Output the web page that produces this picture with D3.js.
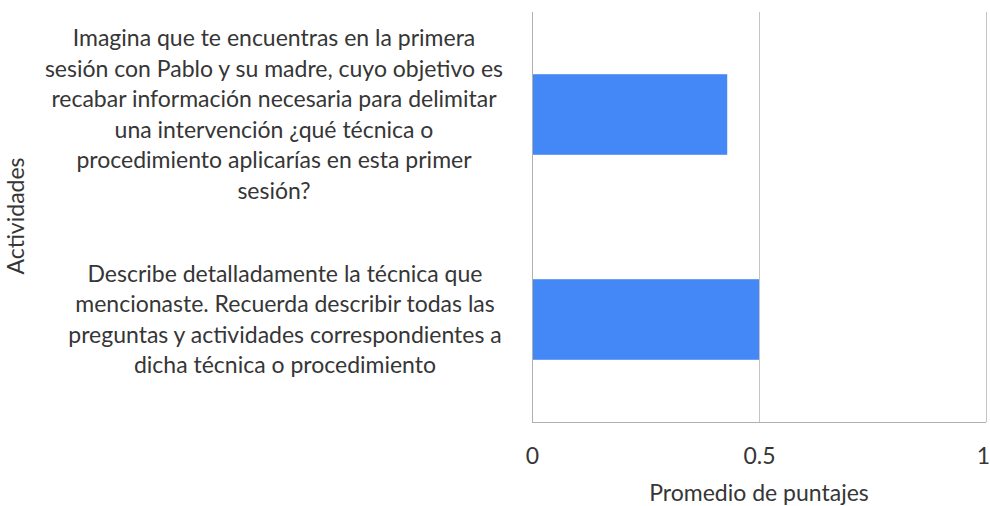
<!DOCTYPE html>
<html>
<head>
<meta charset="utf-8">
<script src="https://cdn.jsdelivr.net/npm/d3@7"></script>
<style>
  html, body { margin: 0; padding: 0; background: #fff; }
  svg { display: block; }
  text { font-family: Lato, "Open Sans", sans-serif; fill: #363636; }
</style>
</head>
<body>
<svg id="chart" width="990" height="506"></svg>
<script>
// Activity prompts (wrapped label lines) and their average scores
const categories = [
  ["Imagina que te encuentras en la primera",
   "sesión con Pablo y su madre, cuyo objetivo es",
   "recabar información necesaria para delimitar",
   "una intervención ¿qué técnica o",
   "procedimiento aplicarías en esta primer",
   "sesión?"],
  ["Describe detalladamente la técnica que",
   "mencionaste. Recuerda describir todas las",
   "preguntas y actividades correspondientes a",
   "dicha técnica o procedimiento"]
];
const values = [0.43, 0.5];
const xTicks = [0, 0.5, 1];
const xTickLabels = ["0", "0.5", "1"];
const xTitle = "Promedio de puntajes";
const yTitle = "Actividades";

const svg = d3.select("#chart");
const plot = { left: 532, right: 986, top: 12, bottom: 422 };
const labelCenters = [274, 285];
const fontSize = "23px";

const x = d3.scaleLinear().domain([0, 1]).range([plot.left, plot.right]);
const y = d3.scaleBand()
  .domain(d3.range(categories.length))
  .range([plot.top, plot.bottom])
  .paddingInner(0.607)
  .paddingOuter(0.3035);

// vertical gridlines
svg.append("g")
  .selectAll("line")
  .data(xTicks.filter(t => t > 0))
  .join("line")
  .attr("x1", d => x(d)).attr("x2", d => x(d))
  .attr("y1", plot.top).attr("y2", plot.bottom)
  .attr("stroke", "#c4c4c4").attr("stroke-width", 1)
  .attr("shape-rendering", "crispEdges");

// bars
svg.append("g")
  .selectAll("rect")
  .data(values)
  .join("rect")
  .attr("x", x(0))
  .attr("y", (d, i) => y(i))
  .attr("width", d => x(d) - x(0))
  .attr("height", y.bandwidth())
  .attr("fill", "#4487f6");

// axis frame: left and bottom lines
svg.append("line")
  .attr("x1", plot.left).attr("x2", plot.left)
  .attr("y1", plot.top).attr("y2", plot.bottom)
  .attr("stroke", "#b0b0b0").attr("shape-rendering", "crispEdges");
svg.append("line")
  .attr("x1", plot.left).attr("x2", plot.right)
  .attr("y1", plot.bottom).attr("y2", plot.bottom)
  .attr("stroke", "#b0b0b0").attr("shape-rendering", "crispEdges");

// x axis tick labels
const xAxis = d3.axisBottom(x)
  .tickValues(xTicks)
  .tickFormat((d, i) => xTickLabels[i])
  .tickSize(0)
  .tickPadding(26);
const gx = svg.append("g")
  .attr("transform", `translate(0,${plot.bottom})`)
  .call(xAxis);
gx.select(".domain").remove();
gx.selectAll("text")
  .style("font-family", "Lato, 'Open Sans', sans-serif")
  .style("font-size", fontSize)
  .style("fill", "#363636");
// keep the last label inside the canvas
gx.selectAll(".tick:last-of-type text").attr("dx", "-3");

// category labels, centred on each band
const lineH = 30.6;
categories.forEach((lines, i) => {
  const cy = y(i) + y.bandwidth() / 2;
  const t = svg.append("text")
    .attr("text-anchor", "middle")
    .style("font-size", fontSize);
  lines.forEach((ln, k) => {
    t.append("tspan")
      .attr("x", labelCenters[i])
      .attr("y", cy + (k - (lines.length - 1) / 2) * lineH + 8)
      .text(ln);
  });
});

// axis titles
svg.append("text")
  .attr("x", x(0.5)).attr("y", 501)
  .attr("text-anchor", "middle")
  .style("font-size", fontSize)
  .text(xTitle);
svg.append("text")
  .attr("transform", "translate(24,216) rotate(-90)")
  .attr("text-anchor", "middle")
  .style("font-size", fontSize)
  .text(yTitle);
</script>
</body>
</html>
